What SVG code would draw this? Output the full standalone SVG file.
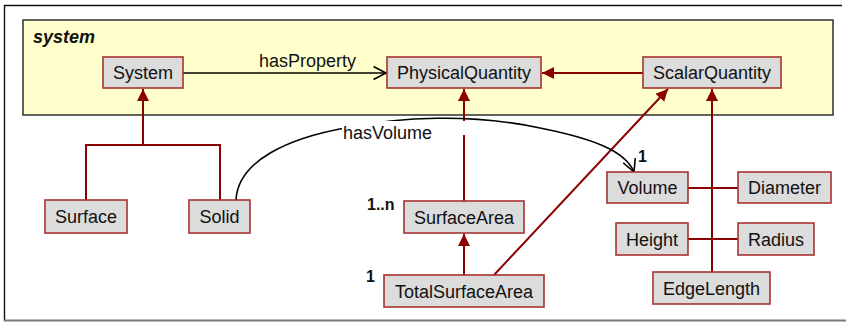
<svg xmlns="http://www.w3.org/2000/svg" width="846" height="322" viewBox="0 0 846 322">
<style>
text{font-family:"Liberation Sans",Arial,sans-serif;fill:#111}
.n rect{fill:#dcdcdc;stroke:#a83232;stroke-width:1.6}
.n text{font-size:18px;text-anchor:middle}
.r{stroke:#8b0000;stroke-width:2;fill:none}
.b{stroke:#000;stroke-width:1.6;fill:none}
.m{font-size:16px;font-weight:bold}
</style>
<defs>
<marker id="tri" markerUnits="userSpaceOnUse" markerWidth="13" markerHeight="13" refX="12" refY="6" orient="auto"><path d="M0,0 L12,6 L0,12 z" fill="#8b0000"/></marker>
<marker id="open" markerUnits="userSpaceOnUse" markerWidth="16" markerHeight="16" refX="13" refY="7" orient="auto"><path d="M0.5,0.5 L13,7 L0.5,13.5" fill="none" stroke="#000" stroke-width="1.6"/></marker>
</defs>
<g id="frame">
<path d="M4,5.5 H842 M4.5,5 V321" stroke="#111" stroke-width="1.4" fill="none"/>
<path d="M4,320.5 H846" stroke="#777" stroke-width="2" fill="none"/>
</g>
<g id="pkg-system">
<rect x="23" y="20" width="810" height="95" fill="#ffffcc" stroke="#222" stroke-width="1.4"/>
<text x="33" y="43" font-size="18" font-weight="bold" font-style="italic">system</text>
</g>
<g id="connectors">
<path class="b" d="M183,73 H386" marker-end="url(#open)"/>
<path class="r" d="M643,73 H542" marker-end="url(#tri)"/>
<path class="r" d="M86,200 V145 H220 V200 M143,145 V89" marker-end="url(#tri)"/>
<path class="r" d="M464,201 V89" marker-end="url(#tri)"/>
<path class="r" d="M464,275 V234" marker-end="url(#tri)"/>
<path class="r" d="M494,275 L668,89" marker-end="url(#tri)"/>
<path class="r" d="M712,272 V89" marker-end="url(#tri)"/>
<path class="r" d="M688,188 H738 M688,239 H738"/>
<path class="b" d="M236,200 C238,160 290,138 345,128 C400,117 470,113 540,128 C590,138 625,150 634,172" marker-end="url(#open)"/>
<rect x="342" y="121" width="128" height="14" fill="#fff"/>
<text x="343" y="139" font-size="18">hasVolume</text>
<text x="259" y="67" font-size="18">hasProperty</text>
<text class="m" x="638" y="162">1</text>
<text class="m" x="367" y="210">1..n</text>
<text class="m" x="366" y="282">1</text>
</g>
<g id="System" class="n"><rect x="103" y="57" width="80" height="31"/><text x="143" y="79">System</text></g>
<g id="PhysicalQuantity" class="n"><rect x="387" y="57" width="154" height="31"/><text x="464" y="79">PhysicalQuantity</text></g>
<g id="ScalarQuantity" class="n"><rect x="643" y="57" width="138" height="31"/><text x="712" y="79">ScalarQuantity</text></g>
<g id="Surface" class="n"><rect x="45" y="200" width="82" height="33"/><text x="86" y="223">Surface</text></g>
<g id="Solid" class="n"><rect x="189" y="200" width="61" height="33"/><text x="219.5" y="223">Solid</text></g>
<g id="SurfaceArea" class="n"><rect x="404" y="201" width="120" height="32"/><text x="464" y="224">SurfaceArea</text></g>
<g id="TotalSurfaceArea" class="n"><rect x="384" y="275" width="160" height="32"/><text x="464" y="298">TotalSurfaceArea</text></g>
<g id="Volume" class="n"><rect x="607" y="172" width="81" height="31"/><text x="647.5" y="194">Volume</text></g>
<g id="Diameter" class="n"><rect x="738" y="172" width="93" height="31"/><text x="784.5" y="194">Diameter</text></g>
<g id="Height" class="n"><rect x="616" y="223" width="72" height="32"/><text x="652" y="246">Height</text></g>
<g id="Radius" class="n"><rect x="738" y="223" width="76" height="32"/><text x="776" y="246">Radius</text></g>
<g id="EdgeLength" class="n"><rect x="653" y="272" width="117" height="32"/><text x="711.5" y="295">EdgeLength</text></g>
</svg>
